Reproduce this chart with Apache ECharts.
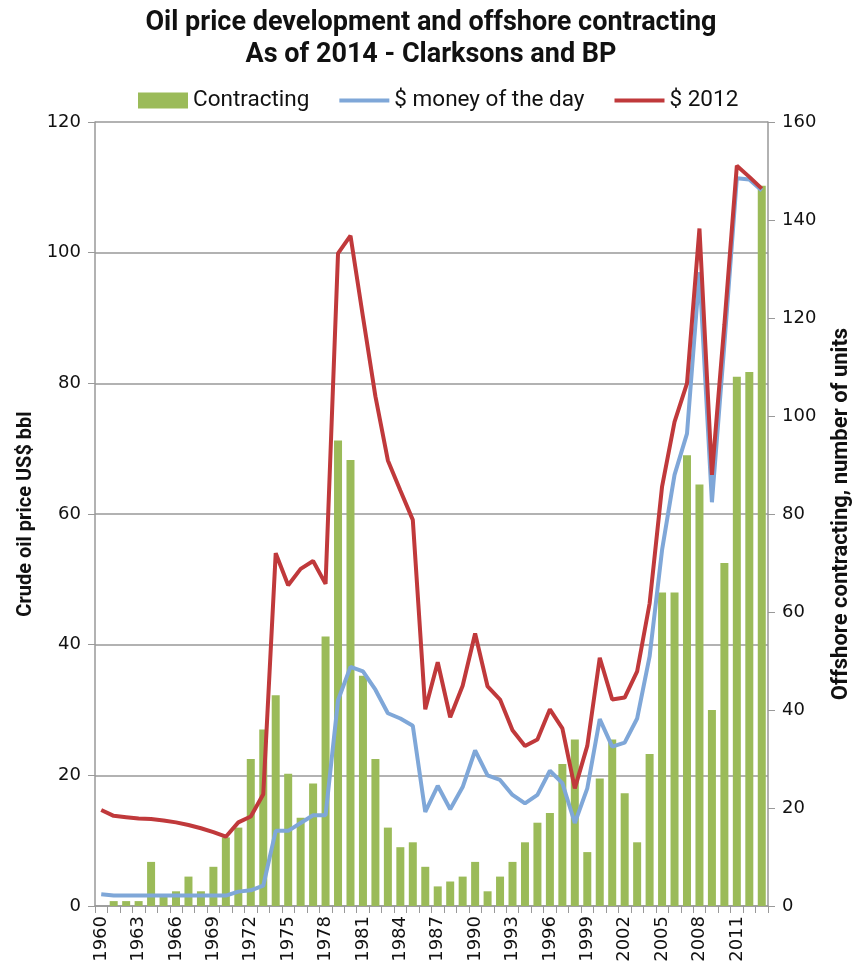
<!DOCTYPE html>
<html>
<head>
<meta charset="utf-8">
<script src="https://cdn.jsdelivr.net/npm/echarts@6/dist/echarts.min.js"></script>
<style>
html,body{margin:0;padding:0;background:#fff;}
#chart{width:861px;height:974px;}
</style>
</head>
<body>
<div id="chart"></div>
<script>
const years = [];
for (let y = 1960; y <= 2013; y++) years.push(String(y));

const contracting = [0,1,1,1,9,2,3,6,3,8,
  14,16,30,36,43,27,18,25,55,95,
  91,47,30,16,12,13,8,4,5,6,
  9,3,6,9,13,17,19,29,34,11,
  26,34,23,13,31,64,64,92,86,40,
  70,108,109,147];

const moneyOfDay = [1.8,1.6,1.6,1.6,1.6,1.6,1.6,1.6,1.6,1.6,
  1.6,2.2,2.4,3.1,11.5,11.5,12.7,13.9,13.9,31.5,
  36.6,35.9,33.1,29.5,28.7,27.6,14.4,18.4,14.8,18.2,
  23.8,20.0,19.3,17.0,15.7,17.0,20.7,18.8,12.7,18.0,
  28.6,24.4,25.0,28.7,38.2,54.5,66,72.3,97,61.8,
  86,111.4,111.2,109.5];

const dollars2012 = [14.7,13.8,13.6,13.4,13.3,13.1,12.8,12.4,11.9,11.3,
  10.6,12.8,13.7,17.1,54.0,49.1,51.6,52.8,49.3,99.9,
  102.6,90.2,78,68.2,63.6,59.1,30.1,37.3,28.9,33.7,
  41.7,33.6,31.6,26.9,24.5,25.5,30.1,27.2,18.0,24.5,
  38.0,31.6,31.9,35.9,46.3,64.2,74.1,80.0,103.7,66.0,
  89,113.3,111.6,109.8];

const titleLines = ['Oil price development and offshore contracting', 'As of 2014 - Clarksons and BP'];
const leftAxisName = 'Crude oil price US$ bbl';
const rightAxisName = 'Offshore contracting, number of units';

const chart = echarts.init(document.getElementById('chart'));
const tickFont = 'DejaVu Sans';
const textFont = 'Roboto';
const lineIcon = 'path://M0,0 L50,0 L50,4 L0,4 Z';
chart.setOption({
  animation: false,
  title: {
    text: titleLines.join('\n'),
    left: 426, top: 2, textAlign: 'center',
    textStyle: {fontFamily: textFont, fontWeight: 'bold', fontSize: 27, lineHeight: 32, color: '#111'}
  },
  legend: {
    left: 133, top: 84,
    itemWidth: 50, itemHeight: 16, itemGap: 30,
    textStyle: {fontFamily: textFont, fontSize: 22.5, color: '#111'},
    data: [
      {name: 'Contracting', icon: 'rect'},
      {name: '$ money of the day', icon: lineIcon},
      {name: '$ 2012', icon: lineIcon}
    ]
  },
  grid: {left: 95, right: 93, top: 122, bottom: 68, containLabel: false},
  xAxis: {
    type: 'category', data: years, boundaryGap: true,
    axisLine: {lineStyle: {color: '#999', width: 1.5}},
    axisTick: {show: true, interval: 0, length: 7, lineStyle: {color: '#999'}},
    axisLabel: {interval: 2, rotate: 90, fontFamily: tickFont, fontSize: 18, color: '#111', margin: 10}
  },
  yAxis: [
    {
      type: 'value', min: 0, max: 120, interval: 20,
      name: leftAxisName, nameLocation: 'middle', nameGap: 52, nameRotate: 90,
      nameTextStyle: {fontFamily: textFont, fontWeight: 'bold', fontSize: 20, color: '#111'},
      axisLine: {show: true, lineStyle: {color: '#999', width: 1.5}},
      axisTick: {show: true, length: 7, lineStyle: {color: '#999'}},
      axisLabel: {fontFamily: tickFont, fontSize: 18, color: '#111', margin: 14},
      splitLine: {show: true, lineStyle: {color: '#999', width: 1.5}}
    },
    {
      type: 'value', min: 0, max: 160, interval: 20, position: 'right',
      name: rightAxisName, nameLocation: 'middle', nameGap: 62, nameRotate: 90,
      nameTextStyle: {fontFamily: textFont, fontWeight: 'bold', fontSize: 22, color: '#111'},
      axisLine: {show: true, lineStyle: {color: '#999', width: 1.5}},
      axisTick: {show: true, length: 7, lineStyle: {color: '#999'}},
      axisLabel: {fontFamily: tickFont, fontSize: 18, color: '#111', margin: 14},
      splitLine: {show: false}
    }
  ],
  series: [
    {name: 'Contracting', type: 'bar', yAxisIndex: 1, data: contracting,
      barWidth: 8, itemStyle: {color: '#9BBB59'}, z: 1},
    {name: '$ money of the day', type: 'line', yAxisIndex: 0, data: moneyOfDay,
      symbol: 'none', lineStyle: {color: '#7FA7D8', width: 4}, itemStyle: {color: '#7FA7D8'}, z: 2},
    {name: '$ 2012', type: 'line', yAxisIndex: 0, data: dollars2012,
      symbol: 'none', lineStyle: {color: '#C0393B', width: 4}, itemStyle: {color: '#C0393B'}, z: 3}
  ]
});
</script>
</body>
</html>
